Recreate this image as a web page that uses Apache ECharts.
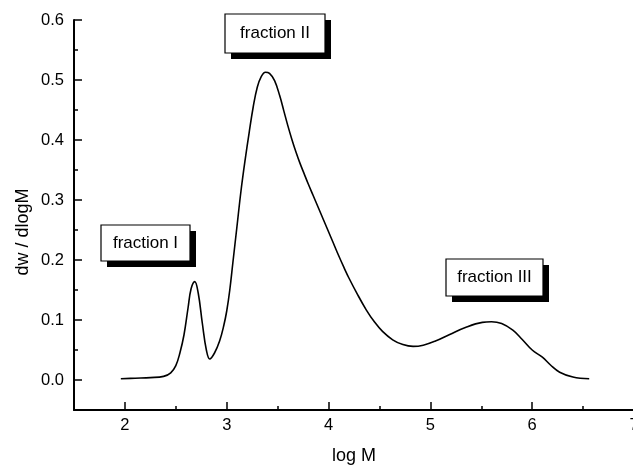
<!DOCTYPE html>
<html>
<head>
<meta charset="utf-8">
<script src="https://cdn.jsdelivr.net/npm/echarts@6/dist/echarts.min.js"></script>
<style>
html,body{margin:0;padding:0;background:#fff;}
#chart{width:633px;height:466px;}
</style>
</head>
<body>
<div id="chart"></div>
<script>
// log M values (x)
const logM = [1.96, 2.1, 2.25, 2.38, 2.45, 2.5, 2.54, 2.58, 2.62, 2.65, 2.686, 2.72, 2.76, 2.8, 2.833, 2.88, 2.93, 2.97, 3.0, 3.03, 3.06, 3.1, 3.14, 3.18, 3.22, 3.26, 3.3, 3.34, 3.38, 3.42, 3.47, 3.52, 3.56, 3.6, 3.64, 3.68, 3.72, 3.76, 3.8, 3.85, 3.9, 3.95, 4.0, 4.05, 4.1, 4.15, 4.2, 4.28, 4.37, 4.45, 4.53, 4.63, 4.73, 4.83, 4.93, 5.05, 5.19, 5.35, 5.51, 5.6, 5.7, 5.81, 5.9, 6.0, 6.1, 6.18, 6.27, 6.4, 6.56];
// dw / dlogM values (y)
const dwdlogM = [0.002, 0.003, 0.004, 0.006, 0.012, 0.024, 0.045, 0.075, 0.12, 0.152, 0.164, 0.145, 0.095, 0.05, 0.035, 0.045, 0.065, 0.09, 0.115, 0.15, 0.195, 0.255, 0.315, 0.366, 0.412, 0.455, 0.488, 0.506, 0.513, 0.511, 0.499, 0.474, 0.449, 0.424, 0.401, 0.38, 0.361, 0.344, 0.327, 0.307, 0.287, 0.267, 0.247, 0.227, 0.207, 0.188, 0.17, 0.144, 0.117, 0.097, 0.081, 0.067, 0.059, 0.056, 0.058, 0.065, 0.076, 0.088, 0.096, 0.097, 0.094, 0.083, 0.068, 0.05, 0.038, 0.025, 0.013, 0.005, 0.002];
// annotation texts
const annotations = ['fraction I', 'fraction II', 'fraction III'];
const xAxisName = 'log M';
const yAxisName = 'dw / dlogM';

const FONT = '"Liberation Sans", Arial, Helvetica, sans-serif';
const chart = echarts.init(document.getElementById('chart'), null, {renderer: 'canvas'});

const boxes = [
  {x: 101, y: 225, w: 89, h: 36},
  {x: 225, y: 14, w: 100, h: 39},
  {x: 446, y: 259, w: 97, h: 37}
];

const graphics = annotations.map((t, i) => {
  const b = boxes[i];
  return {
    type: 'group', x: b.x, y: b.y, z: 100,
    children: [
      {type: 'rect', shape: {x: 6, y: 6, width: b.w, height: b.h}, style: {fill: '#000'}},
      {type: 'rect', shape: {x: 0, y: 0, width: b.w, height: b.h}, style: {fill: '#fff', stroke: '#000', lineWidth: 1.2}},
      {type: 'text', x: b.w / 2, y: b.h / 2, style: {text: t, fill: '#000', font: '17px ' + FONT, textAlign: 'center', textVerticalAlign: 'middle', verticalAlign: 'middle'}}
    ]
  };
});
graphics.push({
  type: 'text', x: 23, y: 232, rotation: Math.PI / 2,
  style: {text: yAxisName, fill: '#000', font: '18px ' + FONT, textAlign: 'center', textVerticalAlign: 'middle', verticalAlign: 'middle'}
});

const labelStyle = {color: '#000', fontSize: 16.5, fontFamily: FONT};

chart.setOption({
  animation: false,
  backgroundColor: '#fff',
  grid: {left: 74, right: -1, top: 20, bottom: 56, containLabel: false, outerBoundsMode: 'none'},
  xAxis: [
    {
      type: 'value', min: 1.5, max: 7,
      name: xAxisName, nameLocation: 'middle', nameGap: 37,
      nameTextStyle: {color: '#000', fontSize: 18, fontFamily: FONT},
      axisLine: {show: true, onZero: false, lineStyle: {color: '#000', width: 2}},
      axisTick: {show: true, inside: true, length: 8, lineStyle: {color: '#000', width: 1.5}},
      axisLabel: Object.assign({margin: 7, showMinLabel: false, formatter: v => Number.isInteger(v) ? String(v) : ''}, labelStyle),
      splitLine: {show: false}
    },
    {
      type: 'value', min: 1.5, max: 7, interval: 0.5, position: 'bottom',
      axisLine: {show: false, onZero: false},
      axisTick: {show: true, inside: true, length: 4, lineStyle: {color: '#000', width: 1.5}},
      axisLabel: {show: false},
      splitLine: {show: false}
    }
  ],
  yAxis: [
    {
      type: 'value', min: -0.05, max: 0.6,
      axisLine: {show: true, onZero: false, lineStyle: {color: '#000', width: 2}},
      axisTick: {show: true, inside: true, length: 8, lineStyle: {color: '#000', width: 1.5}},
      axisLabel: Object.assign({margin: 10, showMinLabel: false, formatter: v => (Math.abs(v * 10 - Math.round(v * 10)) < 1e-6 && v >= 0) ? v.toFixed(1) : ''}, labelStyle),
      splitLine: {show: false}
    },
    {
      type: 'value', min: -0.05, max: 0.6, interval: 0.05, position: 'left',
      axisLine: {show: false, onZero: false},
      axisTick: {show: true, inside: true, length: 4, lineStyle: {color: '#000', width: 1.5}},
      axisLabel: {show: false},
      splitLine: {show: false}
    }
  ],
  series: [{
    type: 'line',
    xAxisIndex: 0, yAxisIndex: 0,
    data: logM.map((x, i) => [x, dwdlogM[i]]),
    smooth: 0.4,
    showSymbol: false,
    symbol: 'none',
    lineStyle: {color: '#000', width: 1.6}
  }],
  graphic: graphics
});
</script>
</body>
</html>
